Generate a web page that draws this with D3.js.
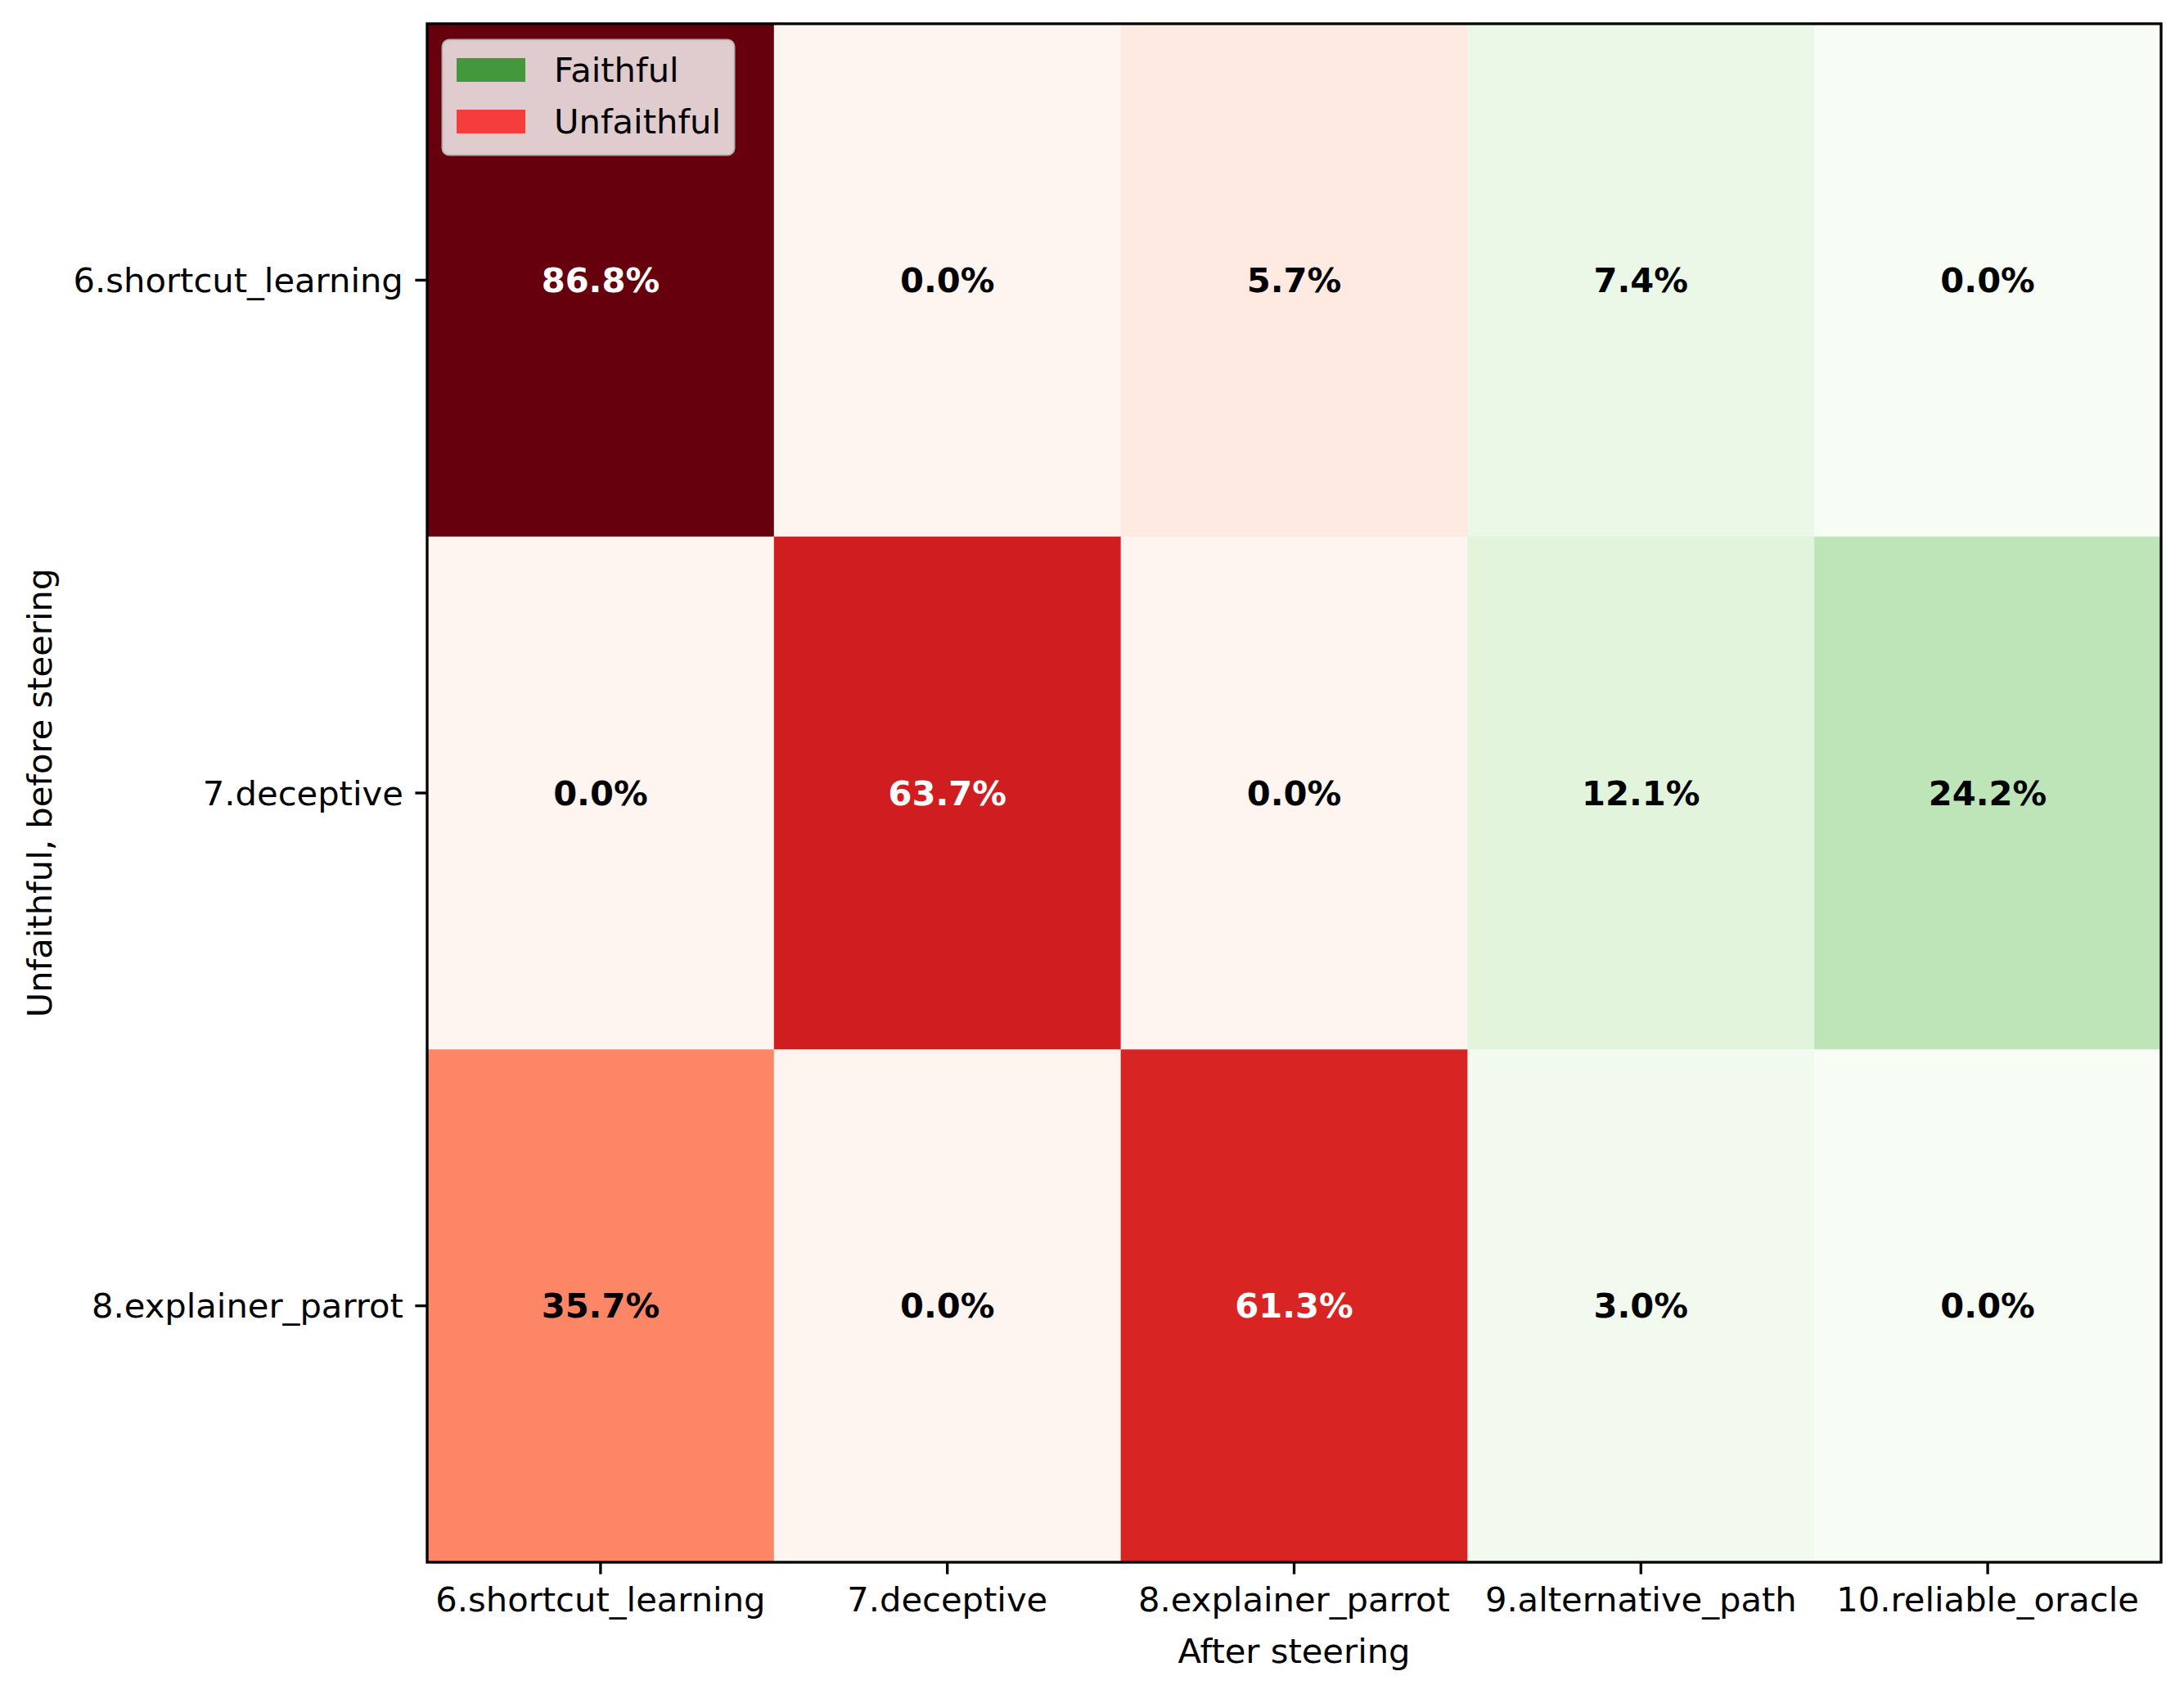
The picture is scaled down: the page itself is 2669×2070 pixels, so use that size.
<!DOCTYPE html>
<html>
<head>
<meta charset="utf-8">
<script src="https://cdn.jsdelivr.net/npm/d3@7"></script>
<style>
  html, body { margin: 0; padding: 0; background: #fff; }
  svg text { font-family: "DejaVu Sans", sans-serif; }
</style>
</head>
<body>
<div id="chart"></div>
<script>
// rows: unfaithful type before steering, cols: type after steering
const rowLabels = ['6.shortcut_learning', '7.deceptive', '8.explainer_parrot'];
const colLabels = ['6.shortcut_learning', '7.deceptive', '8.explainer_parrot', '9.alternative_path', '10.reliable_oracle'];
const faithfulCols = ['9.alternative_path', '10.reliable_oracle'];
const shortcutRow = [86.8, 0.0, 5.7, 7.4, 0.0];
const deceptiveRow = [0.0, 63.7, 0.0, 12.1, 24.2];
const parrotRow = [35.7, 0.0, 61.3, 3.0, 0.0];
const values = [shortcutRow, deceptiveRow, parrotRow];
const legendLabels = ['Faithful', 'Unfaithful'];

document.addEventListener('DOMContentLoaded', () => {
  const W = 2669, H = 2070;
  const FS = 41.67;          // 10pt at 300dpi
  const left = 522, right = 2641, top = 29, bottom = 1909;
  const tickLen = 14.6, tickPad = 14.6;

  const svg = d3.select('#chart').append('svg')
    .attr('width', W).attr('height', H)
    .attr('viewBox', `0 0 ${W} ${H}`);

  const x = d3.scaleBand().domain(colLabels).range([left, right]);
  const y = d3.scaleBand().domain(rowLabels).range([top, bottom]);

  const vmax = d3.max(values.flat());
  const reds = d3.scaleLinear()
    .domain(d3.range(9).map(i => i / 8 * vmax))
    .range(d3.schemeReds[9]).clamp(true);
  const greens = d3.scaleLinear()
    .domain(d3.range(9).map(i => i / 8 * vmax))
    .range(d3.schemeGreens[9]).clamp(true);

  const cells = [];
  rowLabels.forEach((r, i) => {
    colLabels.forEach((c, j) => cells.push({ row: r, col: c, value: values[i][j] }));
  });

  const g = svg.append('g');

  g.selectAll('rect.cell')
    .data(cells)
    .enter().append('rect')
    .attr('class', 'cell')
    .attr('x', d => x(d.col))
    .attr('y', d => y(d.row))
    .attr('width', x.bandwidth() + 0.5)
    .attr('height', y.bandwidth() + 0.5)
    .attr('fill', d => faithfulCols.includes(d.col) ? greens(d.value) : reds(d.value));

  g.selectAll('text.val')
    .data(cells)
    .enter().append('text')
    .attr('class', 'val')
    .attr('x', d => x(d.col) + x.bandwidth() / 2)
    .attr('y', d => y(d.row) + y.bandwidth() / 2)
    .attr('text-anchor', 'middle')
    .attr('dominant-baseline', 'central')
    .style('font-size', FS + 'px')
    .style('font-weight', 'bold')
    .style('fill', d => d.value > 50 ? '#fff' : '#000')
    .text(d => d.value.toFixed(1) + '%');

  // axes
  const xAxis = svg.append('g')
    .attr('transform', `translate(0,${bottom})`)
    .call(d3.axisBottom(x).tickSize(tickLen).tickPadding(tickPad));
  const yAxis = svg.append('g')
    .attr('transform', `translate(${left},0)`)
    .call(d3.axisLeft(y).tickSize(tickLen).tickPadding(tickPad));

  [xAxis, yAxis].forEach(ax => {
    ax.select('.domain').remove();
    ax.selectAll('.tick line').attr('stroke', '#000').attr('stroke-width', 3.33);
    ax.selectAll('.tick text')
      .style('font-size', FS + 'px')
      .style('font-family', '"DejaVu Sans", sans-serif')
      .attr('fill', '#000');
  });
  xAxis.selectAll('.tick text').attr('dy', null).attr('y', tickLen + tickPad)
    .attr('dominant-baseline', 'hanging');
  yAxis.selectAll('.tick text').attr('dy', '0.35em');

  // frame
  svg.append('rect')
    .attr('x', left).attr('y', top)
    .attr('width', right - left).attr('height', bottom - top)
    .attr('fill', 'none').attr('stroke', '#000').attr('stroke-width', 3.33);

  // axis labels
  svg.append('text')
    .attr('x', (left + right) / 2).attr('y', 2032)
    .attr('text-anchor', 'middle')
    .style('font-size', FS + 'px')
    .text('After steering');

  svg.append('text')
    .attr('transform', `translate(63,${(top + bottom) / 2}) rotate(-90)`)
    .attr('text-anchor', 'middle')
    .style('font-size', FS + 'px')
    .text('Unfaithful, before steering');

  // legend
  const legendColors = ['green', 'red'];
  const lg = svg.append('g');
  lg.append('rect')
    .attr('x', 541).attr('y', 49)
    .attr('width', 356).attr('height', 140)
    .attr('rx', 8).attr('ry', 8)
    .attr('fill', '#fff').attr('fill-opacity', 0.8)
    .attr('stroke', '#ccc').attr('stroke-opacity', 0.8).attr('stroke-width', 3);
  legendLabels.forEach((name, i) => {
    const row = lg.append('g').attr('transform', `translate(558,${71 + i * 63})`);
    row.append('rect')
      .attr('width', 84).attr('height', 29)
      .attr('fill', legendColors[i]).attr('fill-opacity', 0.7);
    row.append('text')
      .attr('x', 119).attr('y', 29)
      .style('font-size', FS + 'px')
      .text(name);
  });
});
</script>
</body>
</html>
